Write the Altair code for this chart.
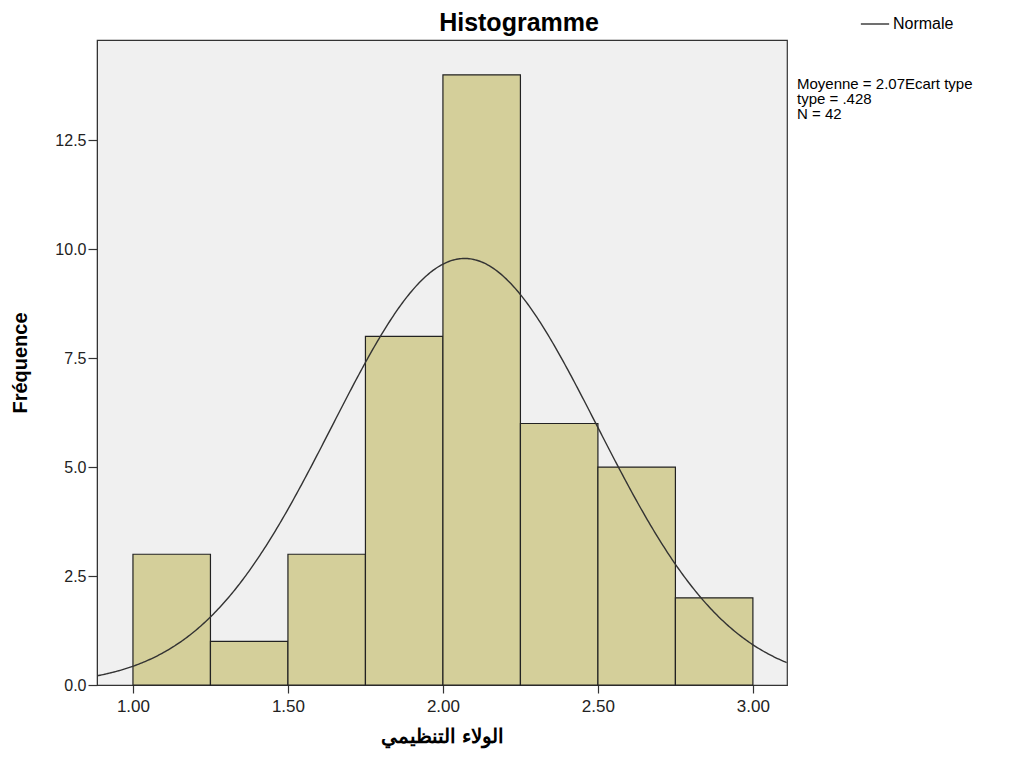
import altair as alt
import pandas as pd

# Histogram data
bin_start = [1.00, 1.25, 1.50, 1.75, 2.00, 2.25, 2.50, 2.75]
bin_end = [1.25, 1.50, 1.75, 2.00, 2.25, 2.50, 2.75, 3.00]
counts = [3, 1, 3, 8, 14, 6, 5, 2]

# Normal curve parameters (as stated on the chart)
mean = 2.07
sd = 0.428
n_obs = 42
bin_width = 0.25

x_ticks = [1.0, 1.5, 2.0, 2.5, 3.0]
y_ticks = [0.0, 2.5, 5.0, 7.5, 10.0, 12.5]
stats_lines = ["Moyenne = 2.07Ecart type", "\u00a0type = .428", "N = 42"]
title_text = "Histogramme"

FONT = "Liberation Sans"
X_DOM = [0.884, 3.11]
Y_DOM = [0, 14.8]

bars_df = pd.DataFrame({"start": bin_start, "end": bin_end, "count": counts})

xscale = alt.Scale(domain=X_DOM, nice=False, zero=False)
yscale = alt.Scale(domain=Y_DOM, nice=False)

bars = alt.Chart(bars_df).mark_rect(
    fill="#d4cf9a", stroke="#222222", strokeWidth=1.2
).encode(
    x=alt.X("start:Q", scale=xscale,
            axis=alt.Axis(values=x_ticks, format=".2f", title="الولاء التنظيمي",
                          titleFont=FONT, titleFontSize=20, titleFontWeight="bold",
                          titleColor="#000", titlePadding=12,
                          labelFont=FONT, labelFontSize=17, labelColor="#222",
                          tickSize=8, tickColor="#333", tickWidth=1.2, domainColor="#333",
                          grid=False, labelPadding=5)),
    x2="end:Q",
    y=alt.Y("count:Q", scale=yscale,
            axis=alt.Axis(values=y_ticks, format=".1f", title="Fréquence",
                          titleFont=FONT, titleFontSize=20, titleFontWeight="bold",
                          titleColor="#000", titlePadding=24,
                          labelFont=FONT, labelFontSize=16, labelColor="#222",
                          tickSize=9, tickColor="#333", tickWidth=1.2, domainColor="#333",
                          grid=False, labelPadding=2)),
    y2=alt.datum(0),
)

curve = alt.Chart(alt.sequence(X_DOM[0], X_DOM[1] + 0.001, 0.005, as_="x")).transform_calculate(
    y=f"{n_obs}*{bin_width}*exp(-0.5*pow((datum.x-{mean})/{sd},2))/({sd}*sqrt(2*PI))",
    series="'Normale'",
).mark_line(strokeWidth=1.4, clip=True).encode(
    x=alt.X("x:Q", scale=xscale),
    y=alt.Y("y:Q", scale=yscale),
    color=alt.Color("series:N",
                    scale=alt.Scale(domain=["Normale"], range=["#333333"]),
                    legend=alt.Legend(title=None, orient="none", legendX=763, legendY=-31,
                                      symbolType="stroke", symbolSize=800, symbolStrokeWidth=1.4,
                                      labelOffset=3,
                                      labelFont=FONT, labelFontSize=16, labelColor="#000")),
)

stats = alt.Chart(pd.DataFrame({"a": [0]})).mark_text(
    align="left", baseline="top", font=FONT, fontSize=15, color="#000", lineHeight=15
).encode(
    x=alt.value(700), y=alt.value(37), text=alt.value(stats_lines)
)

title = alt.Chart(pd.DataFrame({"a": [0]})).mark_text(
    align="center", baseline="middle", font=FONT, fontSize=25, fontWeight="bold", color="#000"
).encode(
    x=alt.value(422), y=alt.value(-17), text=alt.value(title_text)
)

chart = alt.layer(bars, curve, stats, title).properties(
    width=690, height=645,
    autosize=alt.AutoSizeParams(type="none"),
    padding={"left": 89, "top": 32, "right": 223, "bottom": 65},
).configure_view(
    fill="#f0f0f0", stroke="#333333", strokeWidth=1.2
)

chart.save("out.html", embed_options={"renderer": "svg", "actions": False})
